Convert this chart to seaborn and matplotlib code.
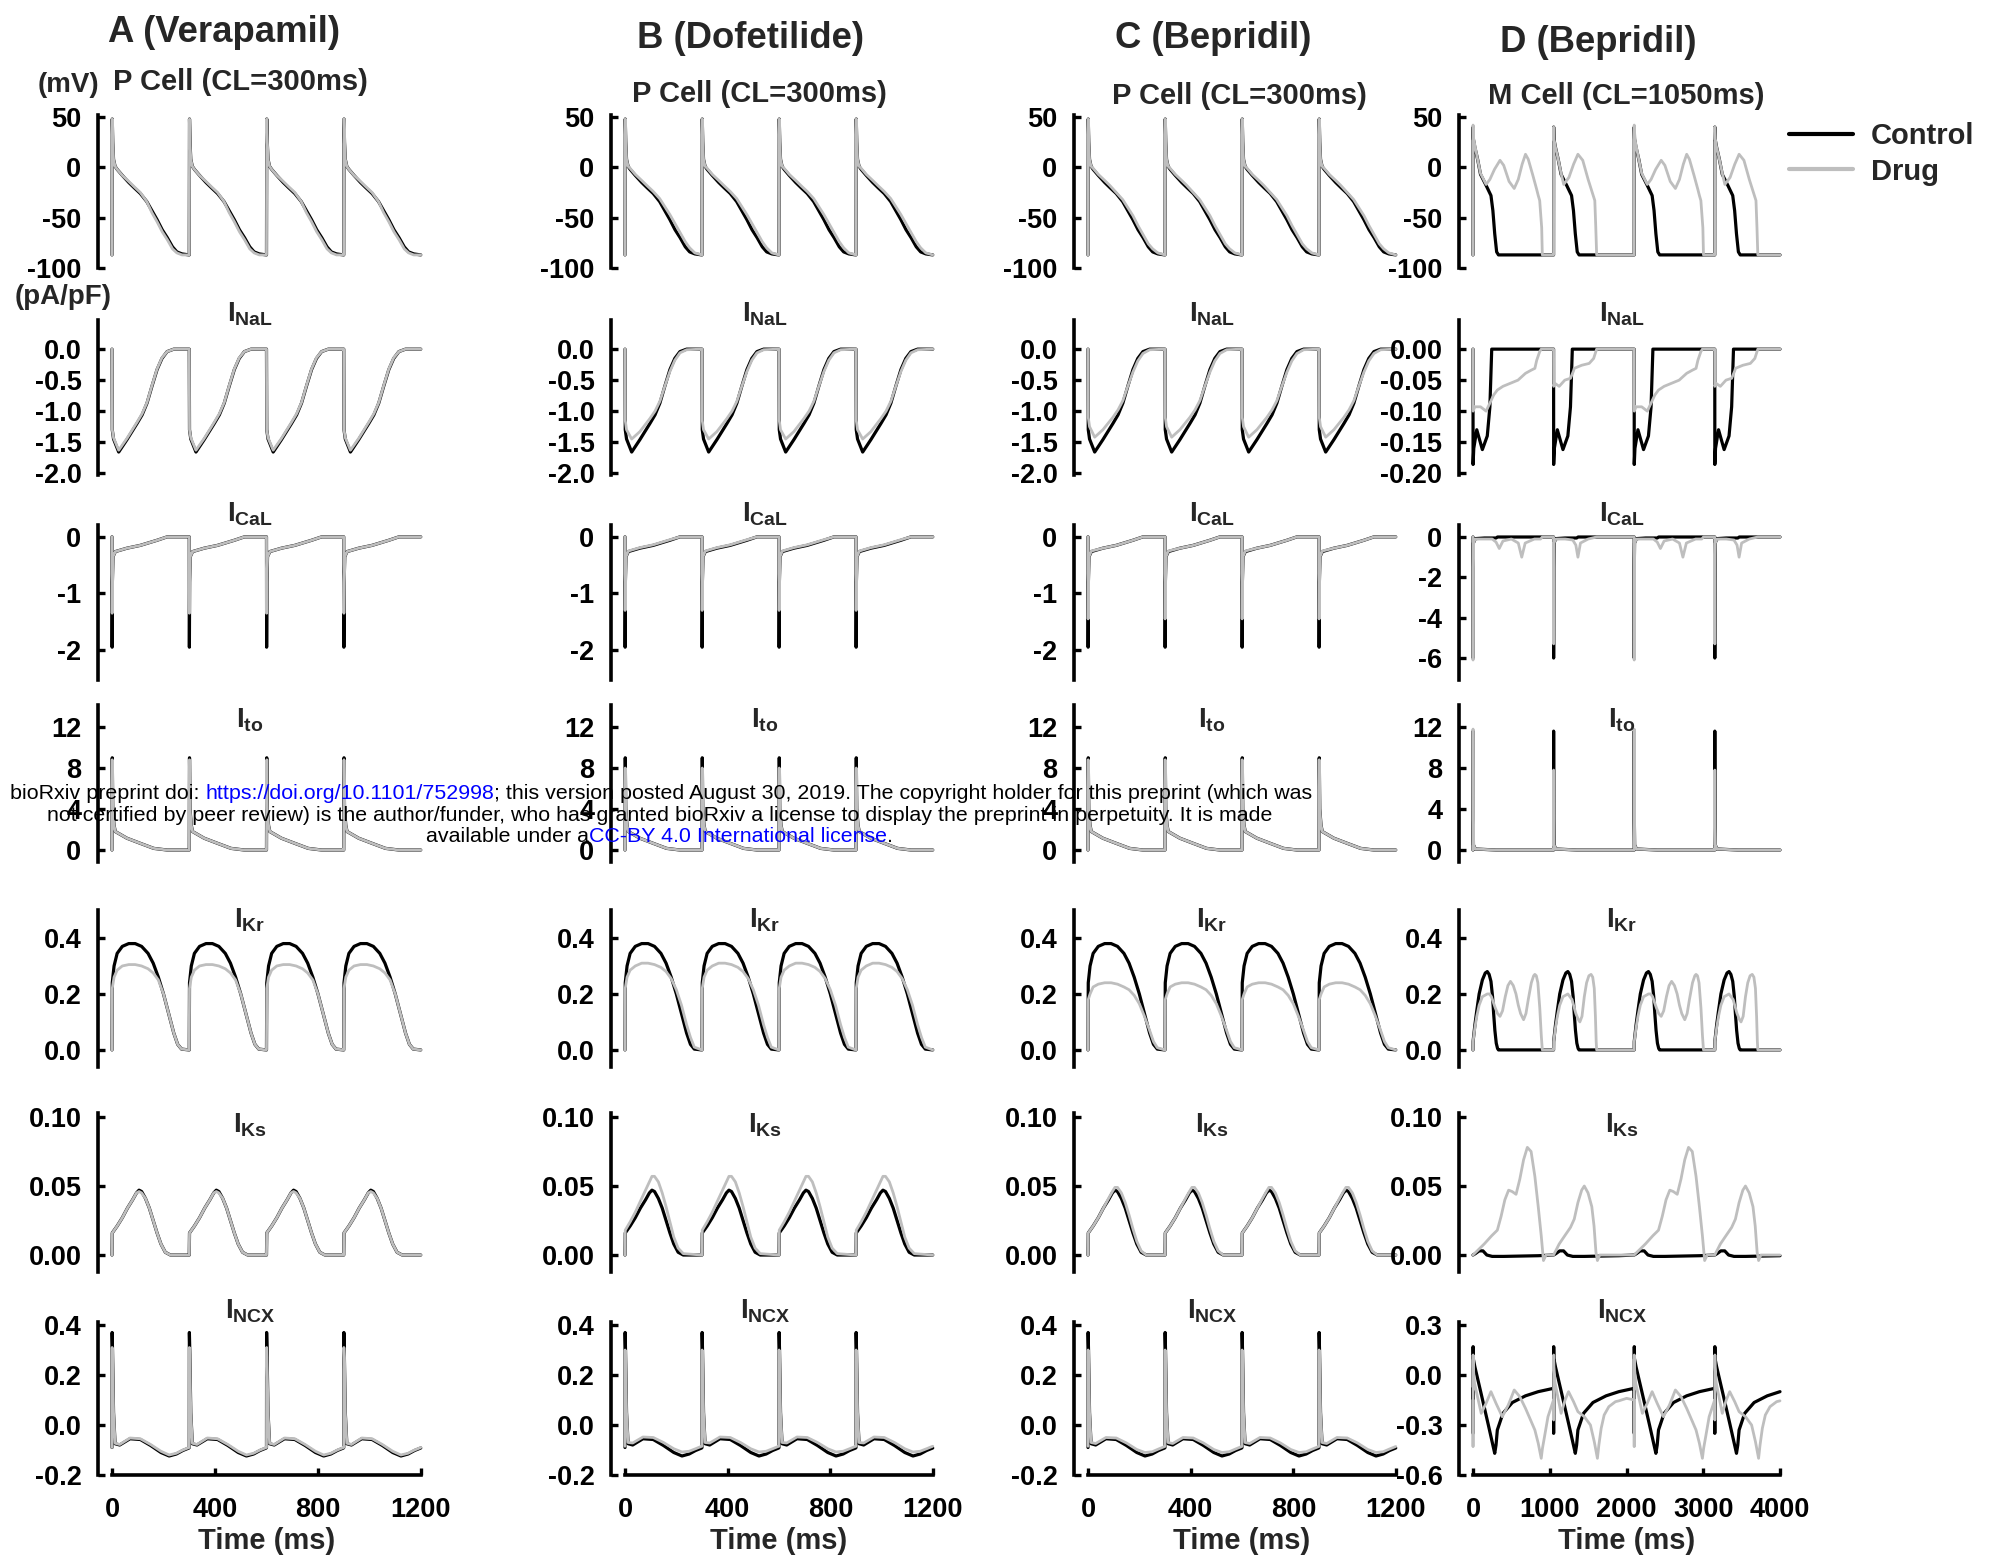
import numpy as np
import matplotlib
matplotlib.use("Agg")
import matplotlib.pyplot as plt
from matplotlib.lines import Line2D
import seaborn as sns

# ---------------------------------------------------------------
# One paced beat, time in ms from the stimulus.
# P cell, CL = 300 ms (columns A-C). Control is the same model in A, B, C.
# ---------------------------------------------------------------
t_vm = [0, 1, 3, 6, 12, 20, 40, 65, 85, 110, 135, 155, 175, 195, 215, 235, 252, 272, 299]
vm_ctl = [-87, 48, 25, 8, 1, -2, -8, -15, -20, -26, -34, -43, -52, -62, -70, -79, -84, -86, -87]
vm_drug_a = [-87, 48, 25, 8, 1, -2, -8, -14, -19, -25, -34, -45, -54, -64, -72, -81, -85, -87, -87]
vm_drug_b = [-87, 48, 25, 8, 1, -1, -7, -13, -18, -24, -31, -39, -47, -56, -65, -74, -80, -85, -87]
vm_drug_c = [-87, 48, 25, 8, 1, -1, -7, -13, -18, -25, -32, -40, -48, -58, -67, -76, -81, -85, -87]

t_nal = [0, 1, 6, 26, 58, 97, 117, 136, 155, 175, 194, 214, 240, 299]
nal_ctl = [0, -1.3, -1.45, -1.66, -1.46, -1.2, -1.06, -0.87, -0.6, -0.33, -0.15, -0.04, 0, 0]
nal_drug_a = [0, -1.3, -1.43, -1.63, -1.44, -1.18, -1.04, -0.86, -0.59, -0.32, -0.14, -0.04, 0, 0]
nal_drug_b = [0, -1.15, -1.3, -1.45, -1.33, -1.12, -1.0, -0.84, -0.6, -0.36, -0.18, -0.06, -0.01, 0]
nal_drug_c = [0, -1.1, -1.25, -1.42, -1.3, -1.1, -0.98, -0.83, -0.6, -0.37, -0.19, -0.07, -0.01, 0]

t_cal = [0, 0.5, 1.5, 4, 13, 58, 110, 175, 214, 299]
cal_ctl = [0, -1.95, -0.8, -0.35, -0.26, -0.2, -0.15, -0.06, 0, 0]
cal_drug_a = [0, -1.35, -0.8, -0.35, -0.26, -0.2, -0.15, -0.06, 0, 0]
cal_drug_b = [0, -1.3, -0.8, -0.35, -0.25, -0.19, -0.14, -0.05, 0, 0]
cal_drug_c = [0, -1.45, -0.8, -0.35, -0.25, -0.2, -0.15, -0.06, 0, 0]

t_to = [0, 1, 3, 8, 13, 58, 110, 162, 214, 299]
to_ctl = [0, 9.0, 4.0, 2.4, 1.8, 1.15, 0.65, 0.16, 0, 0]
to_drug_a = [0, 8.8, 4.0, 2.4, 1.8, 1.15, 0.65, 0.16, 0, 0]
to_drug_b = [0, 8.0, 4.0, 2.4, 1.8, 1.15, 0.65, 0.16, 0, 0]
to_drug_c = [0, 8.8, 4.0, 2.4, 1.8, 1.15, 0.65, 0.16, 0, 0]

t_kr = [0, 1, 8, 20, 40, 65, 90, 115, 140, 160, 180, 200, 220, 240, 255, 270, 299]
kr_ctl = [0, 0.24, 0.3, 0.345, 0.37, 0.38, 0.38, 0.37, 0.345, 0.31, 0.26, 0.2, 0.13, 0.06, 0.02, 0.003, 0]
kr_drug_a = [0, 0.22, 0.26, 0.285, 0.3, 0.305, 0.305, 0.3, 0.29, 0.275, 0.25, 0.2, 0.13, 0.06, 0.02, 0.003, 0]
kr_drug_b = [0, 0.22, 0.26, 0.285, 0.3, 0.31, 0.31, 0.305, 0.295, 0.28, 0.255, 0.215, 0.16, 0.09, 0.045, 0.01, 0]
kr_drug_c = [0, 0.18, 0.2, 0.225, 0.235, 0.24, 0.24, 0.235, 0.225, 0.215, 0.195, 0.165, 0.12, 0.07, 0.03, 0.008, 0]

t_ks = [0, 1, 20, 40, 60, 80, 95, 105, 115, 130, 145, 160, 175, 190, 207, 227, 299]
ks_ctl = [0, 0.016, 0.021, 0.027, 0.034, 0.04, 0.045, 0.047, 0.046, 0.041, 0.034, 0.025, 0.016, 0.008, 0.002, 0, 0]
ks_drug_a = [0, 0.016, 0.021, 0.027, 0.034, 0.04, 0.045, 0.046, 0.045, 0.041, 0.034, 0.025, 0.016, 0.008, 0.002, 0, 0]
ks_drug_b = [0, 0.018, 0.024, 0.031, 0.039, 0.047, 0.053, 0.057, 0.057, 0.053, 0.045, 0.035, 0.024, 0.013, 0.005, 0.001, 0]
ks_drug_c = [0, 0.016, 0.021, 0.027, 0.034, 0.041, 0.046, 0.049, 0.049, 0.045, 0.038, 0.029, 0.019, 0.01, 0.003, 0, 0]

t_ncx = [0, 0.5, 2, 6, 12, 30, 70, 110, 150, 190, 222, 250, 275, 299]
ncx_ctl = [-0.09, 0.37, 0.3, 0.05, -0.075, -0.08, -0.055, -0.058, -0.082, -0.11, -0.124, -0.116, -0.102, -0.092]
ncx_drug_a = [-0.09, 0.31, 0.27, 0.05, -0.073, -0.078, -0.052, -0.055, -0.078, -0.105, -0.12, -0.113, -0.1, -0.09]
ncx_drug_b = [-0.085, 0.3, 0.27, 0.05, -0.07, -0.072, -0.048, -0.05, -0.07, -0.095, -0.108, -0.105, -0.095, -0.085]
ncx_drug_c = [-0.085, 0.3, 0.27, 0.05, -0.07, -0.074, -0.05, -0.052, -0.072, -0.098, -0.11, -0.107, -0.096, -0.086]

# ---------------------------------------------------------------
# M cell, CL = 1050 ms (column D). Drug alternates a long EAD beat
# and a short EAD beat.
# ---------------------------------------------------------------
tm_vm_ctl = [0, 1, 5, 24, 60, 98, 171, 234, 259, 283, 308, 332, 850, 1049]
m_vm_ctl = [-87, 40, 28, 20, 8, -7, -18, -28, -43, -66, -84, -87, -87, -87]
tm_vm_long = [0, 1, 5, 24, 60, 98, 171, 220, 280, 352, 400, 470, 537, 590, 640, 684, 720, 780, 830, 850, 869, 895, 903, 1049]
m_vm_long = [-87, 42, 30, 22, 8, -6, -17, -12, -2, 7, 2, -14, -21, -12, 3, 13, 8, -8, -22, -28, -33, -60, -87, -87]
tm_vm_short = [0, 1, 5, 24, 60, 98, 132, 200, 260, 317, 380, 450, 537, 550, 561, 850, 1049]
m_vm_short = [-87, 40, 28, 20, 8, -6, -17, -10, 3, 13, 7, -12, -33, -60, -87, -87, -87]

tm_nal_ctl = [0, 1, 10, 49, 122, 186, 220, 244, 850, 1049]
m_nal_ctl = [0, -0.186, -0.16, -0.13, -0.162, -0.14, -0.093, 0, 0, 0]
tm_nal_long = [0, 1, 24, 98, 171, 220, 269, 317, 390, 488, 586, 684, 757, 806, 830, 869, 889, 1049]
m_nal_long = [0, -0.1, -0.093, -0.093, -0.1, -0.087, -0.074, -0.066, -0.06, -0.055, -0.05, -0.039, -0.034, -0.031, -0.018, -0.004, 0, 0]
tm_nal_short = [0, 1, 15, 73, 146, 220, 260, 269, 366, 464, 522, 561, 850, 1049]
m_nal_short = [0, -0.06, -0.055, -0.06, -0.05, -0.047, -0.035, -0.031, -0.026, -0.023, -0.015, 0, 0, 0]

tm_cal_ctl = [0, 0.5, 1.5, 5, 30, 150, 300, 320, 850, 1049]
m_cal_ctl = [0, -6.0, -1.5, -0.3, -0.08, -0.05, -0.05, 0, 0, 0]
tm_cal_long = [0, 0.5, 1.5, 5, 30, 150, 250, 300, 342, 390, 500, 590, 635, 680, 800, 880, 903, 1049]
m_cal_long = [0, -6.1, -1.5, -0.3, -0.1, -0.1, -0.1, -0.25, -0.57, -0.2, -0.1, -0.3, -1.0, -0.3, -0.1, -0.1, 0, 0]
tm_cal_short = [0, 0.5, 1.5, 5, 30, 150, 250, 290, 317, 350, 450, 561, 850, 1049]
m_cal_short = [0, -5.3, -1.5, -0.3, -0.1, -0.1, -0.15, -0.4, -1.0, -0.3, -0.1, 0, 0, 0]

tm_to = [0, 0.5, 2, 6, 30, 300, 850, 1049]
m_to_ctl = [0, 11.6, 3, 0.5, 0.1, 0, 0, 0]
m_to_long = [0, 11.8, 3, 0.5, 0.1, 0, 0, 0]
m_to_short = [0, 7.8, 3, 0.5, 0.1, 0, 0, 0]

tm_kr_ctl = [0, 1, 25, 49, 80, 122, 160, 186, 210, 234, 255, 269, 285, 303, 320, 332, 850, 1049]
m_kr_ctl = [0, 0.03, 0.09, 0.14, 0.2, 0.25, 0.275, 0.28, 0.27, 0.245, 0.19, 0.13, 0.07, 0.024, 0.005, 0, 0, 0]
tm_kr_long = [0, 1, 25, 49, 80, 122, 186, 215, 240, 265, 290, 320, 352, 385, 420, 455, 488, 525, 560, 590,
              620, 659, 690, 720, 760, 790, 806, 825, 845, 870, 890, 903, 1049]
m_kr_long = [0, 0.03, 0.08, 0.12, 0.16, 0.19, 0.2, 0.2, 0.19, 0.17, 0.15, 0.13, 0.12, 0.14, 0.19, 0.23, 0.245, 0.23, 0.2, 0.16,
             0.13, 0.108, 0.13, 0.18, 0.24, 0.265, 0.27, 0.265, 0.24, 0.15, 0.05, 0, 0]
tm_kr_short = [0, 1, 25, 49, 80, 122, 186, 240, 290, 320, 342, 370, 400, 430, 460, 488, 510, 530, 545, 555, 561, 850, 1049]
m_kr_short = [0, 0.03, 0.08, 0.12, 0.16, 0.19, 0.2, 0.18, 0.13, 0.11, 0.1, 0.12, 0.19, 0.24, 0.265, 0.27, 0.26, 0.22, 0.12, 0.03, 0, 0, 0]

tm_ks_ctl = [0, 30, 80, 130, 180, 250, 400, 850, 1049]
m_ks_ctl = [0, 0.001, 0.003, 0.003, 0.0, -0.001, -0.001, -0.0005, 0]
tm_ks_long = [0, 146, 244, 317, 366, 415, 464, 510, 561, 610, 659, 708, 757, 806, 850, 889, 918, 952, 1049]
m_ks_long = [0, 0.008, 0.014, 0.018, 0.028, 0.04, 0.047, 0.046, 0.044, 0.055, 0.069, 0.078, 0.075, 0.057, 0.035, 0.014, -0.004, 0, 0]
tm_ks_short = [0, 73, 146, 220, 269, 317, 366, 400, 449, 498, 527, 552, 571, 601, 850, 1049]
m_ks_short = [0, 0.008, 0.014, 0.02, 0.026, 0.038, 0.047, 0.05, 0.045, 0.035, 0.021, 0.002, -0.004, 0, 0, 0]

tm_ncx_ctl = [0, 0.5, 1.5, 3, 24, 100, 200, 283, 300, 317, 390, 513, 684, 850, 1049]
m_ncx_ctl = [-0.08, -0.35, 0.17, 0.1, 0.05, -0.1, -0.3, -0.47, -0.42, -0.33, -0.23, -0.165, -0.125, -0.1, -0.08]
tm_ncx_long = [0, 0.5, 1.5, 3, 20, 107, 170, 234, 300, 381, 460, 537, 610, 684, 750, 806, 850, 889, 905, 928, 977, 1049]
m_ncx_long = [-0.15, -0.43, 0.12, 0.05, -0.05, -0.23, -0.17, -0.1, -0.17, -0.25, -0.18, -0.09, -0.13, -0.2, -0.27, -0.33, -0.41, -0.5, -0.44, -0.38, -0.25, -0.15]
tm_ncx_short = [0, 0.5, 1.5, 3, 20, 98, 150, 195, 260, 317, 400, 480, 530, 571, 590, 620, 659, 720, 806, 850, 952, 1049]
m_ncx_short = [-0.15, -0.27, 0.12, 0.05, -0.05, -0.23, -0.15, -0.1, -0.16, -0.22, -0.25, -0.3, -0.4, -0.5, -0.42, -0.32, -0.24, -0.19, -0.16, -0.155, -0.14, -0.15]

col_titles = ["A (Verapamil)", "B (Dofetilide)", "C (Bepridil)", "D (Bepridil)"]
cell_titles = ["P Cell (CL=300ms)", "P Cell (CL=300ms)", "P Cell (CL=300ms)", "M Cell (CL=1050ms)"]
row_keys = ["vm", "nal", "cal", "to", "kr", "ks", "ncx"]
row_names = {"nal": r"$I_{NaL}$", "cal": r"$I_{CaL}$", "to": r"$I_{to}$",
             "kr": r"$I_{Kr}$", "ks": r"$I_{Ks}$", "ncx": r"$I_{NCX}$"}
xticks_p = [0, 400, 800, 1200]
xticks_m = [0, 1000, 2000, 3000, 4000]
CL_P, CL_M, T_END_M = 300, 1050, 4000

# lookup tables built from the arrays above
p_traces = {
    "vm": (t_vm, vm_ctl, [vm_drug_a, vm_drug_b, vm_drug_c]),
    "nal": (t_nal, nal_ctl, [nal_drug_a, nal_drug_b, nal_drug_c]),
    "cal": (t_cal, cal_ctl, [cal_drug_a, cal_drug_b, cal_drug_c]),
    "to": (t_to, to_ctl, [to_drug_a, to_drug_b, to_drug_c]),
    "kr": (t_kr, kr_ctl, [kr_drug_a, kr_drug_b, kr_drug_c]),
    "ks": (t_ks, ks_ctl, [ks_drug_a, ks_drug_b, ks_drug_c]),
    "ncx": (t_ncx, ncx_ctl, [ncx_drug_a, ncx_drug_b, ncx_drug_c]),
}
m_traces = {
    "vm": ((tm_vm_ctl, m_vm_ctl), (tm_vm_long, m_vm_long), (tm_vm_short, m_vm_short)),
    "nal": ((tm_nal_ctl, m_nal_ctl), (tm_nal_long, m_nal_long), (tm_nal_short, m_nal_short)),
    "cal": ((tm_cal_ctl, m_cal_ctl), (tm_cal_long, m_cal_long), (tm_cal_short, m_cal_short)),
    "to": ((tm_to, m_to_ctl), (tm_to, m_to_long), (tm_to, m_to_short)),
    "kr": ((tm_kr_ctl, m_kr_ctl), (tm_kr_long, m_kr_long), (tm_kr_short, m_kr_short)),
    "ks": ((tm_ks_ctl, m_ks_ctl), (tm_ks_long, m_ks_long), (tm_ks_short, m_ks_short)),
    "ncx": ((tm_ncx_ctl, m_ncx_ctl), (tm_ncx_long, m_ncx_long), (tm_ncx_short, m_ncx_short)),
}

# axis settings: (ylim, ticks, format) for P-cell columns and M-cell column
ax_p = {
    "vm": ((-100, 52), [-100, -50, 0, 50], "%d"),
    "nal": ((-2.03, 0.47), [-2, -1.5, -1, -0.5, 0], "%.1f"),
    "cal": ((-2.53, 0.21), [-2, -1, 0], "%d"),
    "to": ((-1.17, 14.15), [0, 4, 8, 12], "%d"),
    "kr": ((-0.061, 0.5), [0, 0.2, 0.4], "%.1f"),
    "ks": ((-0.0123, 0.1029), [0, 0.05, 0.1], "%.2f"),
    "ncx": ((-0.2, 0.412), [-0.2, 0, 0.2, 0.4], "%.1f"),
}
ax_m = dict(ax_p)
ax_m["nal"] = ((-0.203, 0.047), [-0.2, -0.15, -0.1, -0.05, 0], "%.2f")
ax_m["cal"] = ((-7.09, 0.595), [-6, -4, -2, 0], "%d")
ax_m["ncx"] = ((-0.6, 0.318), [-0.6, -0.3, 0, 0.3], "%.1f")


def pace(beats, cl):
    tt = np.concatenate([np.asarray(t, float) + k * cl for k, (t, v) in enumerate(beats)])
    vv = np.concatenate([np.asarray(v, float) for t, v in beats])
    return tt, vv


# ---------------------------------------------------------------
sns.set_theme(style="white")
plt.rcParams["font.family"] = ["Liberation Sans", "DejaVu Sans"]
plt.rcParams["font.weight"] = "bold"
plt.rcParams["mathtext.fontset"] = "custom"
plt.rcParams["mathtext.rm"] = "Liberation Sans:bold"
plt.rcParams["mathtext.it"] = "Liberation Sans:bold"
plt.rcParams["mathtext.bf"] = "Liberation Sans:bold"

W, H = 1996, 1559
fig = plt.figure(figsize=(W / 100, H / 100), dpi=100)
fig.patch.set_facecolor("white")

col_px = [(112, 421), (625, 933), (1088, 1396), (1473, 1780)]
row_px = [(115, 268), (320, 475), (525, 680), (705, 862), (910, 1067), (1113, 1272), (1322, 1475)]
GRAY = "#bebebe"
LW_C, LW_D = 2.3, 2.0
TICK_FS = 19.5


def fx(x):
    return x / W


def fy(y):
    return 1 - y / H


for r, key in enumerate(row_keys):
    for c in range(4):
        x0, x1 = col_px[c]
        y0, y1 = row_px[r]
        ax = fig.add_axes([fx(x0), fy(y1), (x1 - x0) / W, (y1 - y0) / H])
        ax.patch.set_alpha(0)
        if c < 3:
            t, ctl, drugs = p_traces[key]
            tc, vc = pace([(t, ctl)] * 4, CL_P)
            td, vd = pace([(t, drugs[c])] * 4, CL_P)
            xlim, xticks = (0, 1200), xticks_p
            ylim, yticks, fmt = ax_p[key]
        else:
            ctl_b, long_b, short_b = m_traces[key]
            tc, vc = pace([ctl_b] * 4, CL_M)
            td, vd = pace([long_b, short_b] * 2, CL_M)
            mc, md = tc <= T_END_M, td <= T_END_M
            tc, vc, td, vd = tc[mc], vc[mc], td[md], vd[md]
            xlim, xticks = (0, T_END_M), xticks_m
            ylim, yticks, fmt = ax_m[key]

        sns.lineplot(x=tc, y=vc, ax=ax, color="black", linewidth=LW_C,
                     estimator=None, sort=False, clip_on=False)
        sns.lineplot(x=td, y=vd, ax=ax, color=GRAY, linewidth=LW_D,
                     estimator=None, sort=False, clip_on=False)

        ax.set_xlim(*xlim)
        ax.set_ylim(*ylim)
        ax.set_xlabel("")
        ax.set_ylabel("")
        for s in ("top", "right"):
            ax.spines[s].set_visible(False)
        ax.spines["left"].set_position(("outward", 10))
        ax.spines["left"].set_linewidth(2.6)
        ax.spines["left"].set_color("black")
        ax.set_yticks(yticks)
        ax.set_yticklabels([fmt % v for v in yticks])
        ax.tick_params(axis="y", direction="in", length=5, width=2.4, pad=12,
                       labelsize=TICK_FS, colors="black", left=True)
        if r == len(row_keys) - 1:
            ax.spines["bottom"].set_linewidth(2.6)
            ax.spines["bottom"].set_color("black")
            ax.set_xticks(xticks)
            ax.set_xticklabels(["%d" % v for v in xticks])
            ax.tick_params(axis="x", direction="in", length=5, width=2.4, pad=16,
                           labelsize=TICK_FS, colors="black", bottom=True)
            ax.set_xlabel("Time (ms)", fontsize=21, fontweight="bold", labelpad=3)
        else:
            ax.spines["bottom"].set_visible(False)
            ax.set_xticks([])

        if key in row_names:
            lx = [250, 765, 1212, 1622][c]
            ly = {"nal": 314, "cal": 514, "to": 720, "kr": 920, "ks": 1125, "ncx": 1311}[key]
            fig.text(fx(lx), fy(ly), row_names[key], fontsize=20, ha="center", va="center")

        if key == "vm" and c == 3:
            handles = [Line2D([], [], color="black", lw=3.0), Line2D([], [], color=GRAY, lw=3.0)]
            fig.legend(handles, ["Control", "Drug"], loc="center left",
                       bbox_to_anchor=(fx(1789), fy(154)), bbox_transform=fig.transFigure,
                       frameon=False, fontsize=21, handlelength=2.2, handletextpad=0.6,
                       labelspacing=0.25, borderpad=0, borderaxespad=0)

# column and cell titles
for x, y, s in zip([224, 751, 1213, 1598], [33, 38, 38, 42], col_titles):
    fig.text(fx(x), fy(y), s, fontsize=26.3, ha="center", va="center")
for x, y, s in zip([240, 759, 1239, 1626], [82, 94, 96, 96], cell_titles):
    fig.text(fx(x), fy(y), s, fontsize=21, ha="center", va="center")
fig.text(fx(68), fy(85), "(mV)", fontsize=20, ha="center", va="center")
fig.text(fx(63), fy(297), "(pA/pF)", fontsize=20, ha="center", va="center")

# preprint notice laid over the figure
wm = fig.add_axes([0, 0, 1, 1], zorder=10)
wm.axis("off")
wm.set_xlim(0, W)
wm.set_ylim(H, 0)
wm_kw = dict(fontsize=15.4, fontweight="normal")
line1 = ["bioRxiv preprint doi: ", "https://doi.org/10.1101/752998",
         "; this version posted August 30, 2019. The copyright holder for this preprint (which was"]
line2 = "not certified by peer review) is the author/funder, who has granted bioRxiv a license to display the preprint in perpetuity. It is made"
line3 = ["available under a", "CC-BY 4.0 International license", "."]
seg_colors = ["black", "blue", "black"]

prev = wm.text(10, 793, line1[0], color=seg_colors[0], ha="left", va="center", **wm_kw)
for s, col in zip(line1[1:], seg_colors[1:]):
    prev = wm.annotate(s, xy=(1, 0), xycoords=prev, ha="left", va="bottom", color=col, **wm_kw)
wm.text(660, 815, line2, color="black", ha="center", va="center", **wm_kw)
prev = wm.text(426, 836, line3[0], color=seg_colors[0], ha="left", va="center", **wm_kw)
for s, col in zip(line3[1:], seg_colors[1:]):
    prev = wm.annotate(s, xy=(1, 0), xycoords=prev, ha="left", va="bottom", color=col, **wm_kw)

fig.savefig("out.png", dpi=100, facecolor="white")
